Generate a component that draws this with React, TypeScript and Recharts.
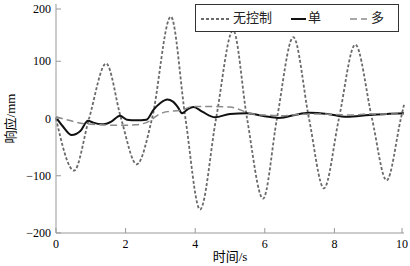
import React from 'react';
import { LineChart, Line, XAxis, YAxis } from 'recharts';

// 无控制 (no control) response
const uncontrolled = [
  { t: 0, v: 0 }, { t: 0.52, v: -91 }, { t: 0.95, v: 0 }, { t: 1.44, v: 96 },
  { t: 1.87, v: 0 }, { t: 2.32, v: -80 }, { t: 2.76, v: 0 }, { t: 3.3, v: 178 },
  { t: 3.72, v: 0 }, { t: 4.14, v: -159 }, { t: 4.6, v: 0 }, { t: 5.09, v: 154 },
  { t: 5.49, v: 0 }, { t: 5.95, v: -140 }, { t: 6.35, v: 0 }, { t: 6.82, v: 142 },
  { t: 7.27, v: 0 }, { t: 7.7, v: -122 }, { t: 8.13, v: 0 }, { t: 8.6, v: 129 },
  { t: 9.08, v: 0 }, { t: 9.5, v: -108 }, { t: 9.91, v: 0 }, { t: 10, v: 24 },
];

// 单 (single)
const single = [
  { t: 0, v: 2 }, { t: 0.2, v: -14 }, { t: 0.45, v: -29 }, { t: 0.7, v: -22 },
  { t: 0.92, v: -4 }, { t: 1.06, v: -7 }, { t: 1.3, v: -10 }, { t: 1.45, v: -9 },
  { t: 1.6, v: -5 }, { t: 1.84, v: 5 }, { t: 2.04, v: -2 }, { t: 2.3, v: -3 },
  { t: 2.6, v: -2 }, { t: 2.8, v: 15 }, { t: 3.0, v: 27 }, { t: 3.2, v: 33 },
  { t: 3.35, v: 30 }, { t: 3.5, v: 20 }, { t: 3.62, v: 9 }, { t: 3.8, v: 17 },
  { t: 3.95, v: 20 }, { t: 4.2, v: 12 }, { t: 4.57, v: 2 }, { t: 5.0, v: 8 },
  { t: 5.49, v: 9 }, { t: 6.0, v: 4 }, { t: 6.4, v: 1 }, { t: 7.0, v: 8 },
  { t: 7.3, v: 10 }, { t: 7.8, v: 8 }, { t: 8.35, v: 3 }, { t: 9.0, v: 6 },
  { t: 9.5, v: 8 }, { t: 10, v: 9 },
];

// 多 (multiple)
const multi = [
  { t: 0, v: 3 }, { t: 0.3, v: -2 }, { t: 0.8, v: -9 }, { t: 1.3, v: -11 },
  { t: 1.84, v: -12 }, { t: 2.3, v: -11 }, { t: 2.7, v: -4 }, { t: 2.95, v: 7 },
  { t: 3.2, v: 12 }, { t: 3.56, v: 14 }, { t: 3.95, v: 21 }, { t: 4.5, v: 21 },
  { t: 5.0, v: 20 }, { t: 5.3, v: 15 }, { t: 5.5, v: 10 }, { t: 6.0, v: 6 },
  { t: 6.5, v: 5 }, { t: 7.0, v: 7 }, { t: 7.5, v: 8 }, { t: 8.0, v: 7 },
  { t: 8.5, v: 6 }, { t: 9.0, v: 8 }, { t: 9.5, v: 8 }, { t: 10, v: 8 },
];

const xTicks = [0, 2, 4, 6, 8, 10];
const yTicks = [-200, -100, 0, 100, 200];

const seriesNames = ['无控制', '单', '多'];
const seriesColors = ['#6a6a6a', '#111111', '#8a8a8a'];
const seriesDash = ['3 2', '', '7 4'];
const seriesWidth = [1.8, 2, 1.5];

const FONT = "'Liberation Serif', 'Noto Sans CJK SC', serif";
const AXIS = '#999999';

const fmt = (n: number) => (n < 0 ? '\u2212' + Math.abs(n) : String(n));

const YTick = (props: any) => {
  const { x, y, payload } = props;
  return (
    <g>
      <line x1={x} x2={x + 5} y1={y} y2={y} stroke={AXIS} />
      <text x={x - 5} y={y} dy={4} textAnchor="end" fontSize={12} fill="#000" fontFamily={FONT}>
        {fmt(payload.value)}
      </text>
    </g>
  );
};

const XTick = (props: any) => {
  const { x, y, payload } = props;
  return (
    <g>
      <line x1={x} x2={x} y1={y} y2={y - 5} stroke={AXIS} />
      <text x={x} y={y + 15} textAnchor="middle" fontSize={12} fill="#000" fontFamily={FONT}>
        {fmt(payload.value)}
      </text>
    </g>
  );
};

const legendSample = [
  { left: 5, width: 29, textLeft: 37 },
  { left: 95, width: 15, textLeft: 112 },
  { left: 154, width: 17, textLeft: 175 },
];

export default function App() {
  const series = [uncontrolled, single, multi];
  return (
    <div style={{ position: 'relative', width: 410, height: 266, background: '#fff' }}>
      <style>{'body{margin:0}'}</style>
      <LineChart width={410} height={266} margin={{ top: 4, right: 6, bottom: 0, left: 0 }}>
        <XAxis
          type="number"
          dataKey="t"
          domain={[0, 10]}
          ticks={xTicks}
          stroke={AXIS}
          tickLine={false}
          tickSize={0}
          tickMargin={0}
          tick={<XTick />}
          height={33}
          allowDuplicatedCategory={false}
          label={{ value: '时间/s', position: 'insideBottom', offset: 5, fontSize: 13, fill: '#000', fontFamily: FONT }}
        />
        <YAxis
          type="number"
          domain={[-200, 200]}
          ticks={yTicks}
          stroke={AXIS}
          tickLine={false}
          tickSize={0}
          tickMargin={0}
          tick={<YTick />}
          width={56}
          label={{
            value: '响应/mm',
            angle: -90,
            position: 'insideLeft',
            offset: 10,
            fontSize: 13,
            fill: '#000',
            fontFamily: FONT,
            style: { textAnchor: 'middle' },
          }}
        />
        {series.map((d, i) => (
          <Line
            key={seriesNames[i]}
            data={d}
            dataKey="v"
            type="monotone"
            stroke={seriesColors[i]}
            strokeWidth={seriesWidth[i]}
            strokeDasharray={seriesDash[i] || undefined}
            dot={false}
            activeDot={false}
            isAnimationActive={false}
          />
        ))}
      </LineChart>
      <div
        style={{
          position: 'absolute',
          left: 195,
          top: 4,
          width: 202,
          height: 26,
          border: '1px solid #333',
          background: '#fff',
          fontFamily: FONT,
          fontSize: 13,
        }}
      >
        {seriesNames.map((name, i) => (
          <React.Fragment key={name}>
            <svg
              width={legendSample[i].width}
              height={4}
              style={{ position: 'absolute', left: legendSample[i].left, top: 12 }}
            >
              <line
                x1={0}
                x2={legendSample[i].width}
                y1={2}
                y2={2}
                stroke={seriesColors[i]}
                strokeWidth={seriesWidth[i]}
                strokeDasharray={seriesDash[i] || undefined}
              />
            </svg>
            <span style={{ position: 'absolute', left: legendSample[i].textLeft, top: 4, lineHeight: '18px', color: '#222' }}>
              {name}
            </span>
          </React.Fragment>
        ))}
      </div>
    </div>
  );
}
